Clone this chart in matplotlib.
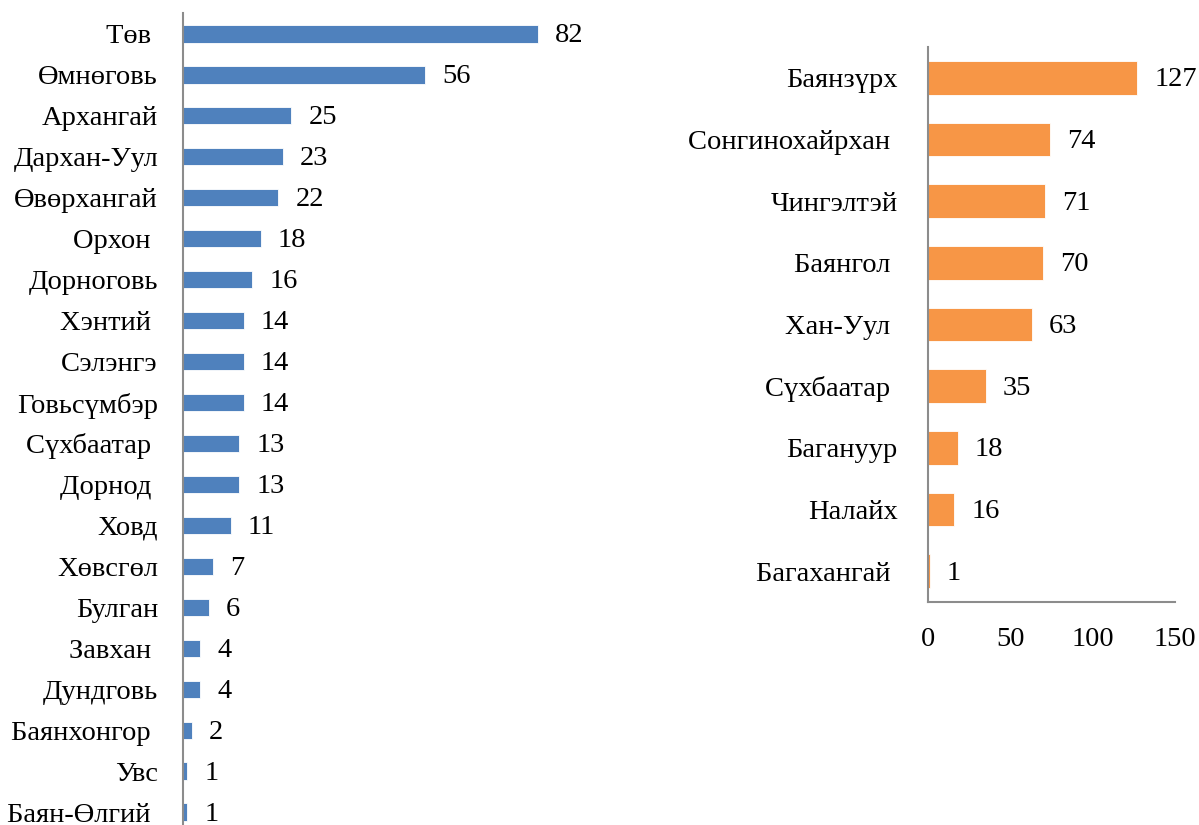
import numpy as np
import matplotlib
matplotlib.use("Agg")
import matplotlib.pyplot as plt

plt.rcParams['font.family'] = ['Liberation Serif', 'DejaVu Serif']

# left panel: aimags
aimag_names = ['Төв ', 'Өмнөговь', 'Архангай', 'Дархан-Уул', 'Өвөрхангай', 'Орхон ',
               'Дорноговь', 'Хэнтий ', 'Сэлэнгэ', 'Говьсүмбэр', 'Сүхбаатар ', 'Дорнод ',
               'Ховд', 'Хөвсгөл', 'Булган', 'Завхан ', 'Дундговь', 'Баянхонгор ',
               'Увс', 'Баян-Өлгий ']
aimag_vals = [82, 56, 25, 23, 22, 18, 16, 14, 14, 14, 13, 13, 11, 7, 6, 4, 4, 2, 1, 1]

# right panel: districts
district_names = ['Баянзүрх', 'Сонгинохайрхан ', 'Чингэлтэй', 'Баянгол ', 'Хан-Уул ',
                  'Сүхбаатар ', 'Багануур', 'Налайх', 'Багахангай ']
district_vals = [127, 74, 71, 70, 63, 35, 18, 16, 1]
district_ticks = [0, 50, 100, 150]

W, H = 1199, 825
fig = plt.figure(figsize=(W / 100, H / 100), dpi=100)
fs = 20.5
grey = '#8c8c8c'


def px_axes(x0, x1, ytop, ybot):
    return fig.add_axes([x0 / W, 1 - ybot / H, (x1 - x0) / W, (ybot - ytop) / H])


def bar_panel(ax, names, vals, color, height, pad):
    y = np.arange(len(names))
    bars = ax.barh(y, vals, height=height, color=color, edgecolor='white', linewidth=0.6)
    ax.set_ylim(len(names) - 0.5, -0.5)
    ax.set_yticks(y)
    ax.set_yticklabels(names, fontsize=fs)
    ax.tick_params(axis='y', length=0, pad=pad)
    for s in ['top', 'right', 'bottom']:
        ax.spines[s].set_visible(False)
    ax.spines['left'].set_color(grey)
    ax.spines['left'].set_linewidth(1.5)
    for b, v in zip(bars, vals):
        ax.annotate(str(v), (b.get_width(), b.get_y() + b.get_height() / 2),
                    xytext=(17, -2), textcoords='offset pixels',
                    ha='left', va='center', fontsize=fs)
    return ax


ax1 = px_axes(183, 616, 13.5, 832.5)
bar_panel(ax1, aimag_names, aimag_vals, '#4F81BD', 0.42, 18)
ax1.set_xlim(0, 100)
ax1.set_xticks([])

ax2 = px_axes(928, 1175, 47, 602)
bar_panel(ax2, district_names, district_vals, '#F79646', 0.55, 22)
ax2.set_xlim(0, 150)
ax2.set_xticks(district_ticks)
ax2.set_xticklabels([str(t) for t in district_ticks], fontsize=fs)
ax2.spines['bottom'].set_visible(True)
ax2.spines['bottom'].set_color(grey)
ax2.spines['bottom'].set_linewidth(1.5)
ax2.tick_params(axis='x', length=0, pad=18)

fig.savefig('out.png', dpi=100)
